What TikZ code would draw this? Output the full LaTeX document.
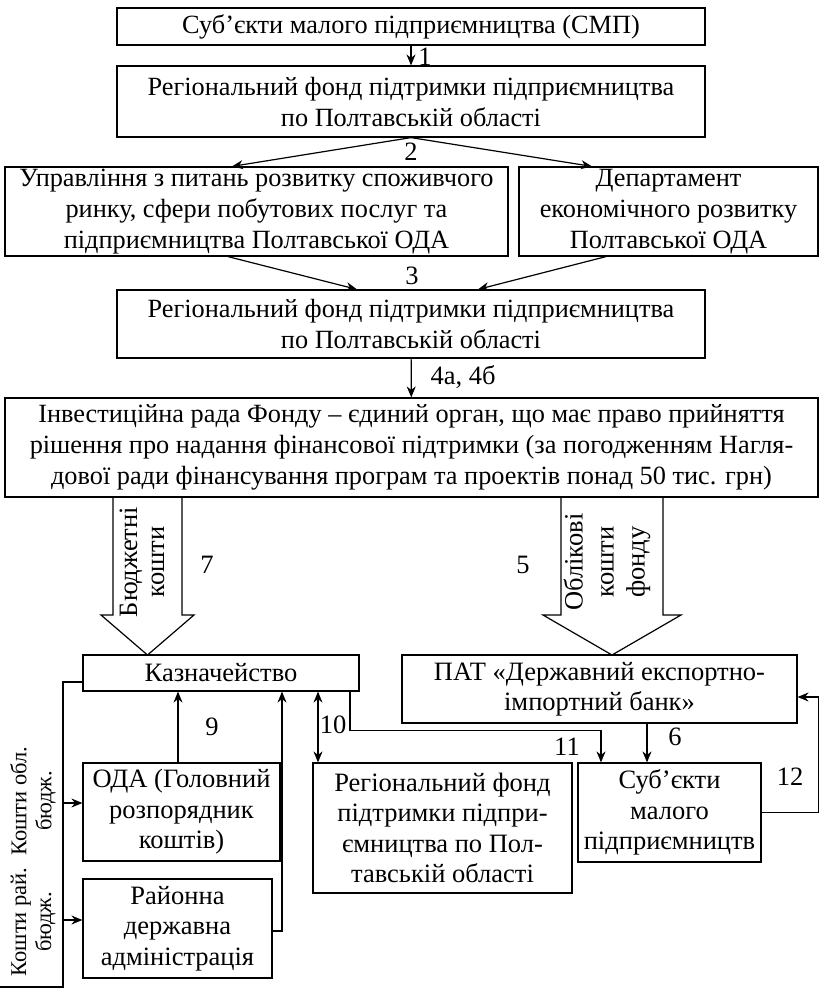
\documentclass[tikz,border=0pt]{standalone}
\usepackage{fontspec}
\setmainfont{Liberation Serif}
\usetikzlibrary{arrows.meta}
\begin{document}
\begin{tikzpicture}[>={Stealth[length=11pt,width=9pt]},x=1pt,y=-1pt,line width=1.2pt,
	box/.style={draw,align=center,inner sep=0pt,font=\fontsize{26.3}{31}\selectfont},
	lowbox/.style={box,font=\fontsize{26.5}{30.5}\selectfont},
	lbl/.style={inner sep=0pt,font=\fontsize{26.5}{30}\selectfont}]
		\useasboundingbox (0,0) rectangle (823,989);
		% upper chain
		\node[box,minimum width=588pt,minimum height=37pt] (smp) at (411,26.5) {Суб’єкти малого підприємництва (СМП)};
		\node[box,minimum width=588pt,minimum height=71pt] (fondA) at (411,101.5) {Регіональний фонд підтримки підприємництва\\по Полтавській області};
		\node[box,minimum width=503pt,minimum height=89pt] (upr) at (256.5,211.5) {Управління з питань розвитку споживчого\\ринку, сфери побутових послуг та\\підприємництва Полтавської ОДА};
		\node[box,minimum width=299pt,minimum height=89pt] (dep) at (668.5,211.5) {Департамент\\економічного розвитку\\Полтавської ОДА};
		\node[box,minimum width=588pt,minimum height=68pt] (fondB) at (411,324) {Регіональний фонд підтримки підприємництва\\по Полтавській області};
		\node[box,minimum width=813pt,minimum height=99pt] (rada) at (411.5,447.5) {Інвестиційна рада Фонду – єдиний орган, що має право прийняття\\рішення про надання фінансової підтримки (за погодженням Нагля-\\дової ради фінансування програм та проектів понад 50 тис. грн)};
		\draw[->] (smp) -- (fondA);
		\draw[->] (fondA.south) -- ([xshift=-24.5pt]upr.north);
		\draw[->] (fondA.south) -- ([xshift=-76.5pt]dep.north);
		\draw[->] ([xshift=-28.5pt]upr.south) -- ([xshift=-54pt]fondB.north);
		\draw[->] ([xshift=-62.5pt]dep.south) -- ([xshift=67pt]fondB.north);
		\draw[->] (fondB) -- (rada);
		\node[lbl] (n1) at (425,57) {1};
		\node[lbl] (n2) at (411,152) {2};
		\node[lbl] (n3) at (412,276) {3};
		\node[lbl] (n4) at (463,377) {4а, 4б};
		% big arrows
		\draw (113,497) -- (113,615) -- (101,615) -- (147.5,655) -- (194,615) -- (182,615) -- (182,497);
		\draw (561,497) -- (561,615) -- (543,615) -- (612,655) -- (681,615) -- (663,615) -- (663,497);
		\node[lbl,rotate=90,align=center,font=\fontsize{26.5}{27}\selectfont] (budg) at (142,562) {Бюджетні\\кошти};
		\node[lbl,rotate=90,align=center,font=\fontsize{26.5}{31}\selectfont] (oblik) at (607,562) {Облікові\\кошти\\фонду};
		\node[lbl] (n7) at (207,565) {7};
		\node[lbl] (n5) at (523,565) {5};
		% lower part
		\node[lowbox,minimum width=276pt,minimum height=36pt] (kazn) at (221,673) {Казначейство};
		\node[lowbox,minimum width=395pt,minimum height=68pt] (bank) at (599.5,689) {ПАТ «Державний експортно-\\імпортний банк»};
		\node[lowbox,minimum width=197pt,minimum height=98pt] (oda) at (181.5,812) {ОДА (Головний\\розпорядник\\коштів)};
		\node[lowbox,minimum width=189pt,minimum height=99pt] (rda) at (177.5,928.5) {Районна\\державна\\адміністрація};
		\node[lowbox,minimum width=259pt,minimum height=130pt] (fondC) at (442.5,828) {Регіональний фонд\\підтримки підпри-\\ємництва по Пол-\\тавській області};
		\node[lowbox,minimum width=183pt,minimum height=99pt] (smpB) at (669.5,812.5) {Суб’єкти\\малого\\підприємництв};
		\coordinate (trunk) at (63,987);
		\coordinate (trunkend) at (0,987);
		\draw ([yshift=-9pt]kazn.west) -| (trunk) -- (trunkend);
		\draw[->] ([yshift=9pt]oda.west -| trunk) -- ([yshift=9pt]oda.west);
		\draw[->] ([yshift=8.5pt]rda.west -| trunk) -- ([yshift=8.5pt]rda.west);
		\node[lbl,rotate=90,align=center,font=\fontsize{22.5}{25}\selectfont] (kobl) at (33,801) {Кошти обл.\\бюдж.};
		\node[lbl,rotate=90,align=center,font=\fontsize{22.5}{25}\selectfont] (kray) at (33,922) {Кошти рай.\\бюдж.};
		\draw[->] ([xshift=-3.5pt]oda.north) -- ([xshift=-3.5pt]oda.north |- kazn.south);
		\draw[->] ([yshift=-2.5pt]rda.east) -| ([xshift=61pt]kazn.south);
		\draw[<->] ([xshift=97pt]kazn.south) -- ([xshift=97pt]kazn.south |- fondC.north);
		\draw[->] ([xshift=129pt]kazn.south) -- ++(0,39) -| ([xshift=-68.5pt]smpB.north);
		\draw[->] ([xshift=47.5pt]bank.south) -- ([xshift=47.5pt]bank.south |- smpB.north);
		\draw[->] (smpB.east) -- ++(57,0) |- ([yshift=-8pt]bank.east);
		\node[lbl] (n9) at (212,727) {9};
		\node[lbl] (n10) at (333,725) {10};
		\node[lbl] (n11) at (567,747) {11};
		\node[lbl] (n6) at (675,737) {6};
		\node[lbl] (n12) at (790,777) {12};
		\end{tikzpicture}
\end{document}
